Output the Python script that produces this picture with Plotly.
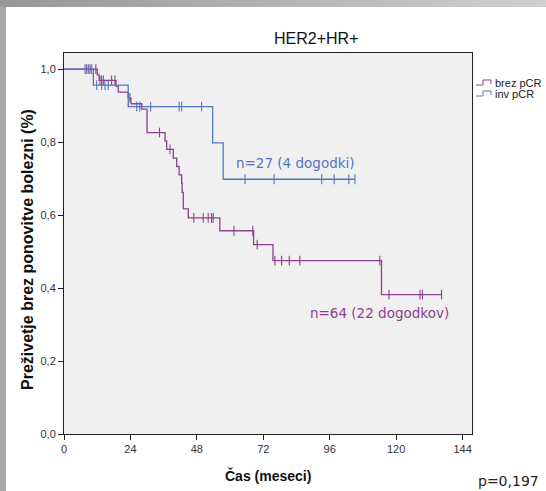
import plotly.graph_objects as go

# ---------------- data ----------------
series_names = ["brez pCR", "inv pCR"]

# brez pCR (n=64, 22 events): event times (months) and survival after each event
brez_event_t = [12.0, 12.7, 18.8, 19.6, 23.2, 24.2, 28.1, 30.0, 36.5, 37.1, 39.5,
                40.7, 41.6, 42.5, 42.7, 43.1, 44.9, 56.3, 68.5, 75.5, 114.7]
brez_event_s = [0.984, 0.969, 0.953, 0.937, 0.921, 0.905, 0.890, 0.826, 0.803, 0.780, 0.756,
                0.733, 0.710, 0.687, 0.662, 0.617, 0.592, 0.557, 0.519, 0.475, 0.382]
brez_end_t = 136.4
brez_censor_t = [8.2, 9.4, 11.5, 13.0, 13.6, 14.2, 17.2, 18.4, 23.8, 34.5, 38.3, 46.9,
                 50.3, 52.1, 53.3, 53.9, 61.4, 68.2, 69.8, 76.2, 78.6, 81.4, 85.2,
                 114.1, 117.4, 128.6, 129.5, 136.4]

# inv pCR (n=27, 4 events)
inv_event_t = [10.6, 23.2, 53.7, 57.5]
inv_event_s = [0.956, 0.897, 0.798, 0.698]
inv_end_t = 105.1
inv_censor_t = [7.6, 8.8, 10.0, 11.8, 13.6, 14.8, 16.0, 26.3, 27.4, 31.3, 41.6, 42.5,
                49.7, 65.4, 75.9, 93.1, 97.6, 102.9, 105.1]

x_ticks = [0, 24, 48, 72, 96, 120, 144]
y_ticks = [0.0, 0.2, 0.4, 0.6, 0.8, 1.0]
y_ticktext = ["0,0", "0,2", "0,4", "0,6", "0,8", "1,0"]

label_brez = "n=64 (22 dogodkov)"
label_inv = "n=27 (4 dogodki)"
p_text = "p=0,197"

# ---------------- styling ----------------
PURPLE = "#8e3f8e"
BLUE = "#5674bf"
W, H = 546, 491
L, R, T, B = 64, 472, 53, 434


def px(xp):
    return (xp - L) / (R - L)


def py(yp):
    return (B - yp) / (B - T)


def step_xy(ev_t, ev_s, end_t):
    xs = [0.0] + list(ev_t) + [end_t]
    ys = [1.0] + list(ev_s) + [ev_s[-1]]
    return xs, ys


def level_at(t, ev_t, ev_s):
    s = 1.0
    for et, es in zip(ev_t, ev_s):
        if t >= et:
            s = es
    return s


fig = go.Figure()

for name, ev_t, ev_s, end_t, cens, col in [
    (series_names[0], brez_event_t, brez_event_s, brez_end_t, brez_censor_t, PURPLE),
    (series_names[1], inv_event_t, inv_event_s, inv_end_t, inv_censor_t, BLUE),
]:
    xs, ys = step_xy(ev_t, ev_s, end_t)
    fig.add_trace(go.Scatter(x=xs, y=ys, mode="lines", line=dict(color=col, width=1.3, shape="hv"),
                             name=name, showlegend=False, hoverinfo="skip"))
    fig.add_trace(go.Scatter(x=cens, y=[level_at(t, ev_t, ev_s) for t in cens], mode="markers",
                             marker=dict(symbol="line-ns", size=7, line=dict(color=col, width=1.1)),
                             showlegend=False, hoverinfo="skip"))

axis_common = dict(showline=True, mirror=True, linecolor="#222222", linewidth=1,
                   ticks="outside", ticklen=5, tickcolor="#222222", showgrid=False,
                   zeroline=False, tickfont=dict(family="Arial, Liberation Sans", size=11, color="#333333"))

fig.update_xaxes(range=[0, 147.4], tickvals=x_ticks, ticktext=[str(v) for v in x_ticks], **axis_common)
fig.update_yaxes(range=[0, 1.044], tickvals=y_ticks, ticktext=y_ticktext, **axis_common)

ann = []
ann.append(dict(text="HER2+HR+", x=px(316), y=py(39), xref="paper", yref="paper",
                showarrow=False, xanchor="center", yanchor="middle",
                font=dict(family="Arial, Liberation Sans", size=16, color="#111111")))
ann.append(dict(text="<b>Čas (meseci)</b>", x=px(268), y=py(475), xref="paper", yref="paper",
                showarrow=False, xanchor="center", yanchor="middle",
                font=dict(family="Arial, Liberation Sans", size=14, color="#111111")))
ann.append(dict(text="<b>Preživetje brez ponovitve bolezni (%)</b>", x=px(27), y=py(250),
                xref="paper", yref="paper", showarrow=False, textangle=-90,
                xanchor="center", yanchor="middle",
                font=dict(family="Arial, Liberation Sans", size=16, color="#111111")))
ann.append(dict(text=label_inv, x=83.8, y=0.742, xref="x", yref="y", showarrow=False,
                xanchor="center", yanchor="middle",
                font=dict(family="DejaVu Sans", size=13.5, color=BLUE)))
ann.append(dict(text=label_brez, x=113.8, y=0.332, xref="x", yref="y", showarrow=False,
                xanchor="center", yanchor="middle",
                font=dict(family="DejaVu Sans", size=13.5, color=PURPLE)))
ann.append(dict(text=p_text, x=px(541), y=py(481), xref="paper", yref="paper", showarrow=False,
                xanchor="right", yanchor="middle",
                font=dict(family="DejaVu Sans", size=14, color="#222222")))

shapes = []
# legend (manual, step-shaped glyphs)
for i, (name, col) in enumerate([(series_names[0], PURPLE), (series_names[1], BLUE)]):
    yc = 83 + i * 11
    path = "M {:.4f},{:.4f} L {:.4f},{:.4f} L {:.4f},{:.4f} L {:.4f},{:.4f} L {:.4f},{:.4f}".format(
        px(476), py(yc + 2), px(483), py(yc + 2), px(483), py(yc - 3), px(491), py(yc - 3), px(491), py(yc + 1))
    shapes.append(dict(type="path", path=path, xref="paper", yref="paper",
                       line=dict(color=col, width=1)))
    ann.append(dict(text=name, x=px(493), y=py(yc), xref="paper", yref="paper", showarrow=False,
                    xanchor="left", yanchor="middle",
                    font=dict(family="Arial, Liberation Sans", size=11, color="#222222")))

fig.update_layout(width=W, height=H, margin=dict(l=L, r=W - R, t=T, b=H - B, pad=0),
                  paper_bgcolor="rgba(0,0,0,0)", plot_bgcolor="#f0f0f0",
                  annotations=ann, shapes=shapes, showlegend=False)

page_css = (
    "document.documentElement.style.margin='0';"
    "document.body.style.margin='0';"
    "document.body.style.overflow='hidden';"
    "document.documentElement.style.background="
    "'linear-gradient(to right,#969696,#d0d0d0) 0 0/100% 7px no-repeat,"
    " linear-gradient(#a9a9a9,#a9a9a9) 0 0/6px 100% no-repeat, #ffffff';"
    "document.documentElement.style.minHeight='100%';"
)

fig.write_html("out.html", config={"displayModeBar": False}, post_script=page_css)
